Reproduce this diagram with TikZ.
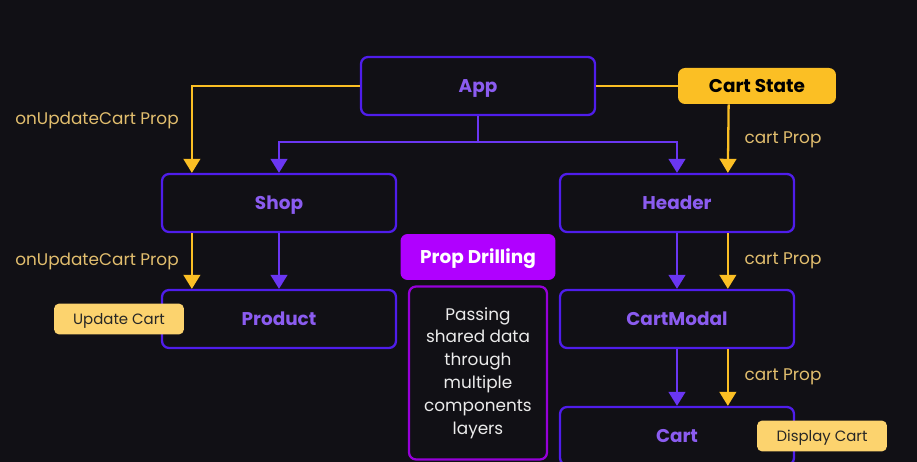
\documentclass[tikz,border=0pt]{standalone}
\usepackage{fontspec}
\setmainfont{Poppins}
\usepackage{xcolor}
\usepackage{tikz}
\usetikzlibrary{arrows.meta, positioning}

\definecolor{bgdark}{HTML}{111015}
\definecolor{violetline}{HTML}{4F1DEB}
\definecolor{violetarr}{HTML}{6A36F2}
\definecolor{violettext}{HTML}{8B5CF0}
\definecolor{amber}{HTML}{FBBF24}
\definecolor{amberlight}{HTML}{FCD36E}
\definecolor{beige}{HTML}{E2BE6E}
\definecolor{magenta}{HTML}{B000FF}

\begin{document}
\begin{tikzpicture}[x=0.02cm, y=-0.02cm,
  compbox/.style={rectangle, draw=violetline, line width=1.3pt, fill=bgdark, rounded corners=4pt,
    minimum width=4.68cm, minimum height=1.16cm, align=center, text height=7.4pt, text depth=0pt,
    font=\fontsize{10.5}{12}\selectfont\bfseries, text=violettext},
  statebox/.style={rectangle, fill=amber, rounded corners=4pt, text height=7.4pt, text depth=0pt,
    minimum width=3.16cm, minimum height=0.72cm, font=\fontsize{10.5}{12}\selectfont\bfseries, text=black},
  notebox/.style={rectangle, fill=amberlight, rounded corners=3pt, text height=6pt, text depth=0pt,
    minimum width=2.6cm, minimum height=0.62cm, font=\fontsize{8.5}{10}\selectfont, text=black!85},
  propnote/.style={font=\fontsize{9.6}{12}\selectfont, text=beige},
  yarr/.style={-{Triangle[width=9.5pt, length=8pt]}, line width=1.3pt, draw=amber},
  parr/.style={-{Triangle[width=9.5pt, length=8pt]}, line width=1.3pt, draw=violetarr},
  yline/.style={line width=1.3pt, draw=amber},
  pline/.style={line width=1.3pt, draw=violetarr}
]
  \fill[bgdark] (0,0) rectangle (917,462);
  \useasboundingbox (0,0) rectangle (917,462);

  \node[compbox]  (app)       at (478, 86)  {App};
  \node[statebox] (cartstate) at (757, 86)  {Cart State};
  \node[compbox]  (shop)      at (279, 203) {Shop};
  \node[compbox]  (header)    at (677, 203) {Header};
  \node[compbox]  (product)   at (279, 319) {Product};
  \node[compbox]  (cartmodal) at (677, 319) {CartModal};
  \node[compbox]  (cart)      at (677, 436) {Cart};

  \node[rectangle, fill=magenta, rounded corners=4pt, minimum width=3.1cm, minimum height=0.92cm,
    text height=7.4pt, text depth=0pt,
    font=\fontsize{10.5}{12}\selectfont\bfseries, text=white] (drill) at (478, 257) {Prop Drilling};
  \node[rectangle, draw=magenta!85!black, line width=1.3pt, rounded corners=4pt,
    minimum width=2.76cm, minimum height=3.46cm, align=center,
    font=\fontsize{9.6}{13}\selectfont, text=white!92!black] (passing) at (478, 373)
    {Passing\\shared data\\through\\multiple\\components\\layers};

  \node[notebox] (update)  at (119, 319) {Update Cart};
  \node[notebox] (display) at (822, 436) {Display Cart};

  % App -> Shop / Header
  \coordinate (split) at (478, 142);
  \draw[pline] (app.south) -- (split);
  \draw[parr] (split) -| (shop.north);
  \draw[parr] (split) -| (header.north);
  \draw[yarr] (app.west) -| ([xshift=0.62cm]shop.north west);
  \draw[yline] (cartstate.west) -- (app.east);
  \draw[yarr] ([xshift=1.02cm]cartstate.south west) -- ([xshift=3.38cm]header.north west);

  % second and third level
  \draw[yarr] ([xshift=0.62cm]shop.south west) -- ([xshift=0.62cm]product.north west);
  \draw[parr] (shop) -- (product);
  \draw[parr] (header) -- (cartmodal);
  \draw[yarr] ([xshift=3.38cm]header.south west) -- ([xshift=3.38cm]cartmodal.north west);
  \draw[parr] (cartmodal) -- (cart);
  \draw[yarr] ([xshift=3.38cm]cartmodal.south west) -- ([xshift=3.38cm]cart.north west);

  \node[propnote] (lbl1) at (97, 120)  {onUpdateCart Prop};
  \node[propnote] (lbl2) at (97, 261)  {onUpdateCart Prop};
  \node[propnote] (lbl3) at (783, 140) {cart Prop};
  \node[propnote] (lbl4) at (783, 261) {cart Prop};
  \node[propnote] (lbl5) at (783, 377) {cart Prop};
\end{tikzpicture}
\end{document}
